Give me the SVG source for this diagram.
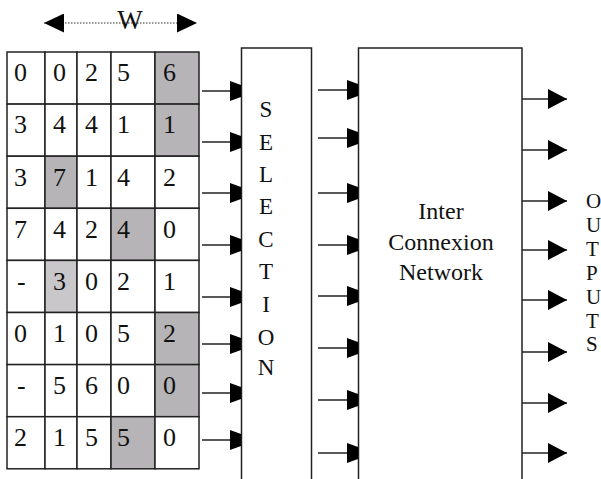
<svg xmlns="http://www.w3.org/2000/svg" width="601" height="479" viewBox="0 0 601 479">
<defs>
<style>
.cell{fill:#fff;stroke:#222;stroke-width:1.5}
.sh{fill:#b6b4b7;stroke:#222;stroke-width:1.5}
.sh2{fill:#c9c7ca;stroke:#222;stroke-width:1.5}
text{font-family:'Liberation Serif',Tinos,'Times New Roman','DejaVu Serif',serif}
.d{font-size:26px;fill:#111}
.w{font-size:27px;fill:#111;text-anchor:middle}
.box{fill:none;stroke:#222;stroke-width:1.5}
.lbl{font-size:23px;fill:#111;text-anchor:middle}
.net{font-size:24px;fill:#111;text-anchor:middle}
.out{font-size:21px;fill:#111}
.ci{stroke:#222;stroke-width:1.5;fill:none;marker-end:url(#hin)}
.co{stroke:#222;stroke-width:1.5;fill:none;marker-end:url(#hout)}
</style>
<marker id="hin" markerUnits="userSpaceOnUse" markerWidth="12" markerHeight="20" refX="11" refY="10" orient="auto"><path d="M0,0 L11,4 L11,16 L0,20 Z" fill="#000"/></marker>
<marker id="hout" markerUnits="userSpaceOnUse" markerWidth="20" markerHeight="20" refX="19" refY="10" orient="auto"><path d="M0,0 L19,10 L0,20 Z" fill="#000"/></marker>
<marker id="hw" markerUnits="userSpaceOnUse" markerWidth="21" markerHeight="19" refX="20" refY="9.5" orient="auto-start-reverse"><path d="M0,0 L20,9.5 L0,19 Z" fill="#000"/></marker>
</defs>
<rect width="601" height="479" fill="#fff"/>

<g id="width-label">
<line x1="44" y1="23" x2="197" y2="23" stroke="#333" stroke-width="1.2" stroke-dasharray="1.5 1.5" marker-start="url(#hw)" marker-end="url(#hw)"/>
<text class="w" x="130" y="29">W</text>
</g>

<g id="grid">
<rect class="cell" x="7" y="52" width="38" height="52.1"/><rect class="cell" x="45" y="52" width="32" height="52.1"/><rect class="cell" x="77" y="52" width="34" height="52.1"/><rect class="cell" x="111" y="52" width="44" height="52.1"/><rect class="sh" x="155" y="52" width="44" height="52.1"/>
<rect class="cell" x="7" y="104.1" width="38" height="52.1"/><rect class="cell" x="45" y="104.1" width="32" height="52.1"/><rect class="cell" x="77" y="104.1" width="34" height="52.1"/><rect class="cell" x="111" y="104.1" width="44" height="52.1"/><rect class="sh" x="155" y="104.1" width="44" height="52.1"/>
<rect class="cell" x="7" y="156.2" width="38" height="52.1"/><rect class="sh" x="45" y="156.2" width="32" height="52.1"/><rect class="cell" x="77" y="156.2" width="34" height="52.1"/><rect class="cell" x="111" y="156.2" width="44" height="52.1"/><rect class="cell" x="155" y="156.2" width="44" height="52.1"/>
<rect class="cell" x="7" y="208.3" width="38" height="52.1"/><rect class="cell" x="45" y="208.3" width="32" height="52.1"/><rect class="cell" x="77" y="208.3" width="34" height="52.1"/><rect class="sh" x="111" y="208.3" width="44" height="52.1"/><rect class="cell" x="155" y="208.3" width="44" height="52.1"/>
<rect class="cell" x="7" y="260.4" width="38" height="52.1"/><rect class="sh2" x="45" y="260.4" width="32" height="52.1"/><rect class="cell" x="77" y="260.4" width="34" height="52.1"/><rect class="cell" x="111" y="260.4" width="44" height="52.1"/><rect class="cell" x="155" y="260.4" width="44" height="52.1"/>
<rect class="cell" x="7" y="312.5" width="38" height="52.1"/><rect class="cell" x="45" y="312.5" width="32" height="52.1"/><rect class="cell" x="77" y="312.5" width="34" height="52.1"/><rect class="cell" x="111" y="312.5" width="44" height="52.1"/><rect class="sh" x="155" y="312.5" width="44" height="52.1"/>
<rect class="cell" x="7" y="364.6" width="38" height="52.1"/><rect class="cell" x="45" y="364.6" width="32" height="52.1"/><rect class="cell" x="77" y="364.6" width="34" height="52.1"/><rect class="cell" x="111" y="364.6" width="44" height="52.1"/><rect class="sh" x="155" y="364.6" width="44" height="52.1"/>
<rect class="cell" x="7" y="416.7" width="38" height="52.1"/><rect class="cell" x="45" y="416.7" width="32" height="52.1"/><rect class="cell" x="77" y="416.7" width="34" height="52.1"/><rect class="sh" x="111" y="416.7" width="44" height="52.1"/><rect class="cell" x="155" y="416.7" width="44" height="52.1"/>

<text class="d" x="14" y="81">0</text><text class="d" x="53" y="81">0</text><text class="d" x="85" y="81">2</text><text class="d" x="117" y="81">5</text><text class="d" x="163" y="81">6</text>
<text class="d" x="14" y="133">3</text><text class="d" x="53" y="133">4</text><text class="d" x="85" y="133">4</text><text class="d" x="117" y="133">1</text><text class="d" x="163" y="133">1</text>
<text class="d" x="14" y="186">3</text><text class="d" x="53" y="186">7</text><text class="d" x="85" y="186">1</text><text class="d" x="117" y="186">4</text><text class="d" x="163" y="186">2</text>
<text class="d" x="14" y="238">7</text><text class="d" x="53" y="238">4</text><text class="d" x="85" y="238">2</text><text class="d" x="117" y="238">4</text><text class="d" x="163" y="238">0</text>
<text class="d" x="17" y="290">-</text><text class="d" x="53" y="290">3</text><text class="d" x="85" y="290">0</text><text class="d" x="117" y="290">2</text><text class="d" x="163" y="290">1</text>
<text class="d" x="14" y="342">0</text><text class="d" x="53" y="342">1</text><text class="d" x="85" y="342">0</text><text class="d" x="117" y="342">5</text><text class="d" x="163" y="342">2</text>
<text class="d" x="17" y="394">-</text><text class="d" x="53" y="394">5</text><text class="d" x="85" y="394">6</text><text class="d" x="117" y="394">0</text><text class="d" x="163" y="394">0</text>
<text class="d" x="14" y="446">2</text><text class="d" x="53" y="446">1</text><text class="d" x="85" y="446">5</text><text class="d" x="117" y="446">5</text><text class="d" x="163" y="446">0</text>
</g>

<g id="selection">
<rect class="box" x="241.5" y="48" width="70" height="440"/>
<text class="lbl" x="266" y="117">S</text>
<text class="lbl" x="266" y="150">E</text>
<text class="lbl" x="266" y="182">L</text>
<text class="lbl" x="266" y="214">E</text>
<text class="lbl" x="266" y="247">C</text>
<text class="lbl" x="266" y="279">T</text>
<text class="lbl" x="266" y="312">I</text>
<text class="lbl" x="266" y="345">O</text>
<text class="lbl" x="266" y="375">N</text>
</g>

<g id="network">
<rect class="box" x="358.5" y="48" width="163.5" height="440"/>
<text class="net" x="441" y="219">Inter</text>
<text class="net" x="441" y="250">Connexion</text>
<text class="net" x="441" y="280">Network</text>
</g>

<g id="outputs-label">
<text class="out" x="586" y="208">O</text>
<text class="out" x="586" y="232">U</text>
<text class="out" x="586" y="256">T</text>
<text class="out" x="586" y="280">P</text>
<text class="out" x="586" y="304">U</text>
<text class="out" x="586" y="328">T</text>
<text class="out" x="586" y="351">S</text>
</g>

<g id="connectors">
<line class="ci" x1="202" y1="91" x2="241" y2="91"/>
<line class="ci" x1="202" y1="142" x2="241" y2="142"/>
<line class="ci" x1="202" y1="193" x2="241" y2="193"/>
<line class="ci" x1="202" y1="245" x2="241" y2="245"/>
<line class="ci" x1="202" y1="297" x2="241" y2="297"/>
<line class="ci" x1="202" y1="344" x2="241" y2="344"/>
<line class="ci" x1="202" y1="393" x2="241" y2="393"/>
<line class="ci" x1="202" y1="440" x2="241" y2="440"/>

<line class="ci" x1="318" y1="90" x2="358" y2="90"/>
<line class="ci" x1="318" y1="138" x2="358" y2="138"/>
<line class="ci" x1="318" y1="193" x2="358" y2="193"/>
<line class="ci" x1="318" y1="245" x2="358" y2="245"/>
<line class="ci" x1="318" y1="296" x2="358" y2="296"/>
<line class="ci" x1="318" y1="348" x2="358" y2="348"/>
<line class="ci" x1="318" y1="400" x2="358" y2="400"/>
<line class="ci" x1="318" y1="453" x2="358" y2="453"/>

<line class="co" x1="522" y1="99" x2="567" y2="99"/>
<line class="co" x1="522" y1="150" x2="567" y2="150"/>
<line class="co" x1="522" y1="201" x2="567" y2="201"/>
<line class="co" x1="522" y1="250" x2="567" y2="250"/>
<line class="co" x1="522" y1="300" x2="567" y2="300"/>
<line class="co" x1="522" y1="352" x2="567" y2="352"/>
<line class="co" x1="522" y1="403" x2="567" y2="403"/>
<line class="co" x1="522" y1="453" x2="567" y2="453"/>
</g>
</svg>
